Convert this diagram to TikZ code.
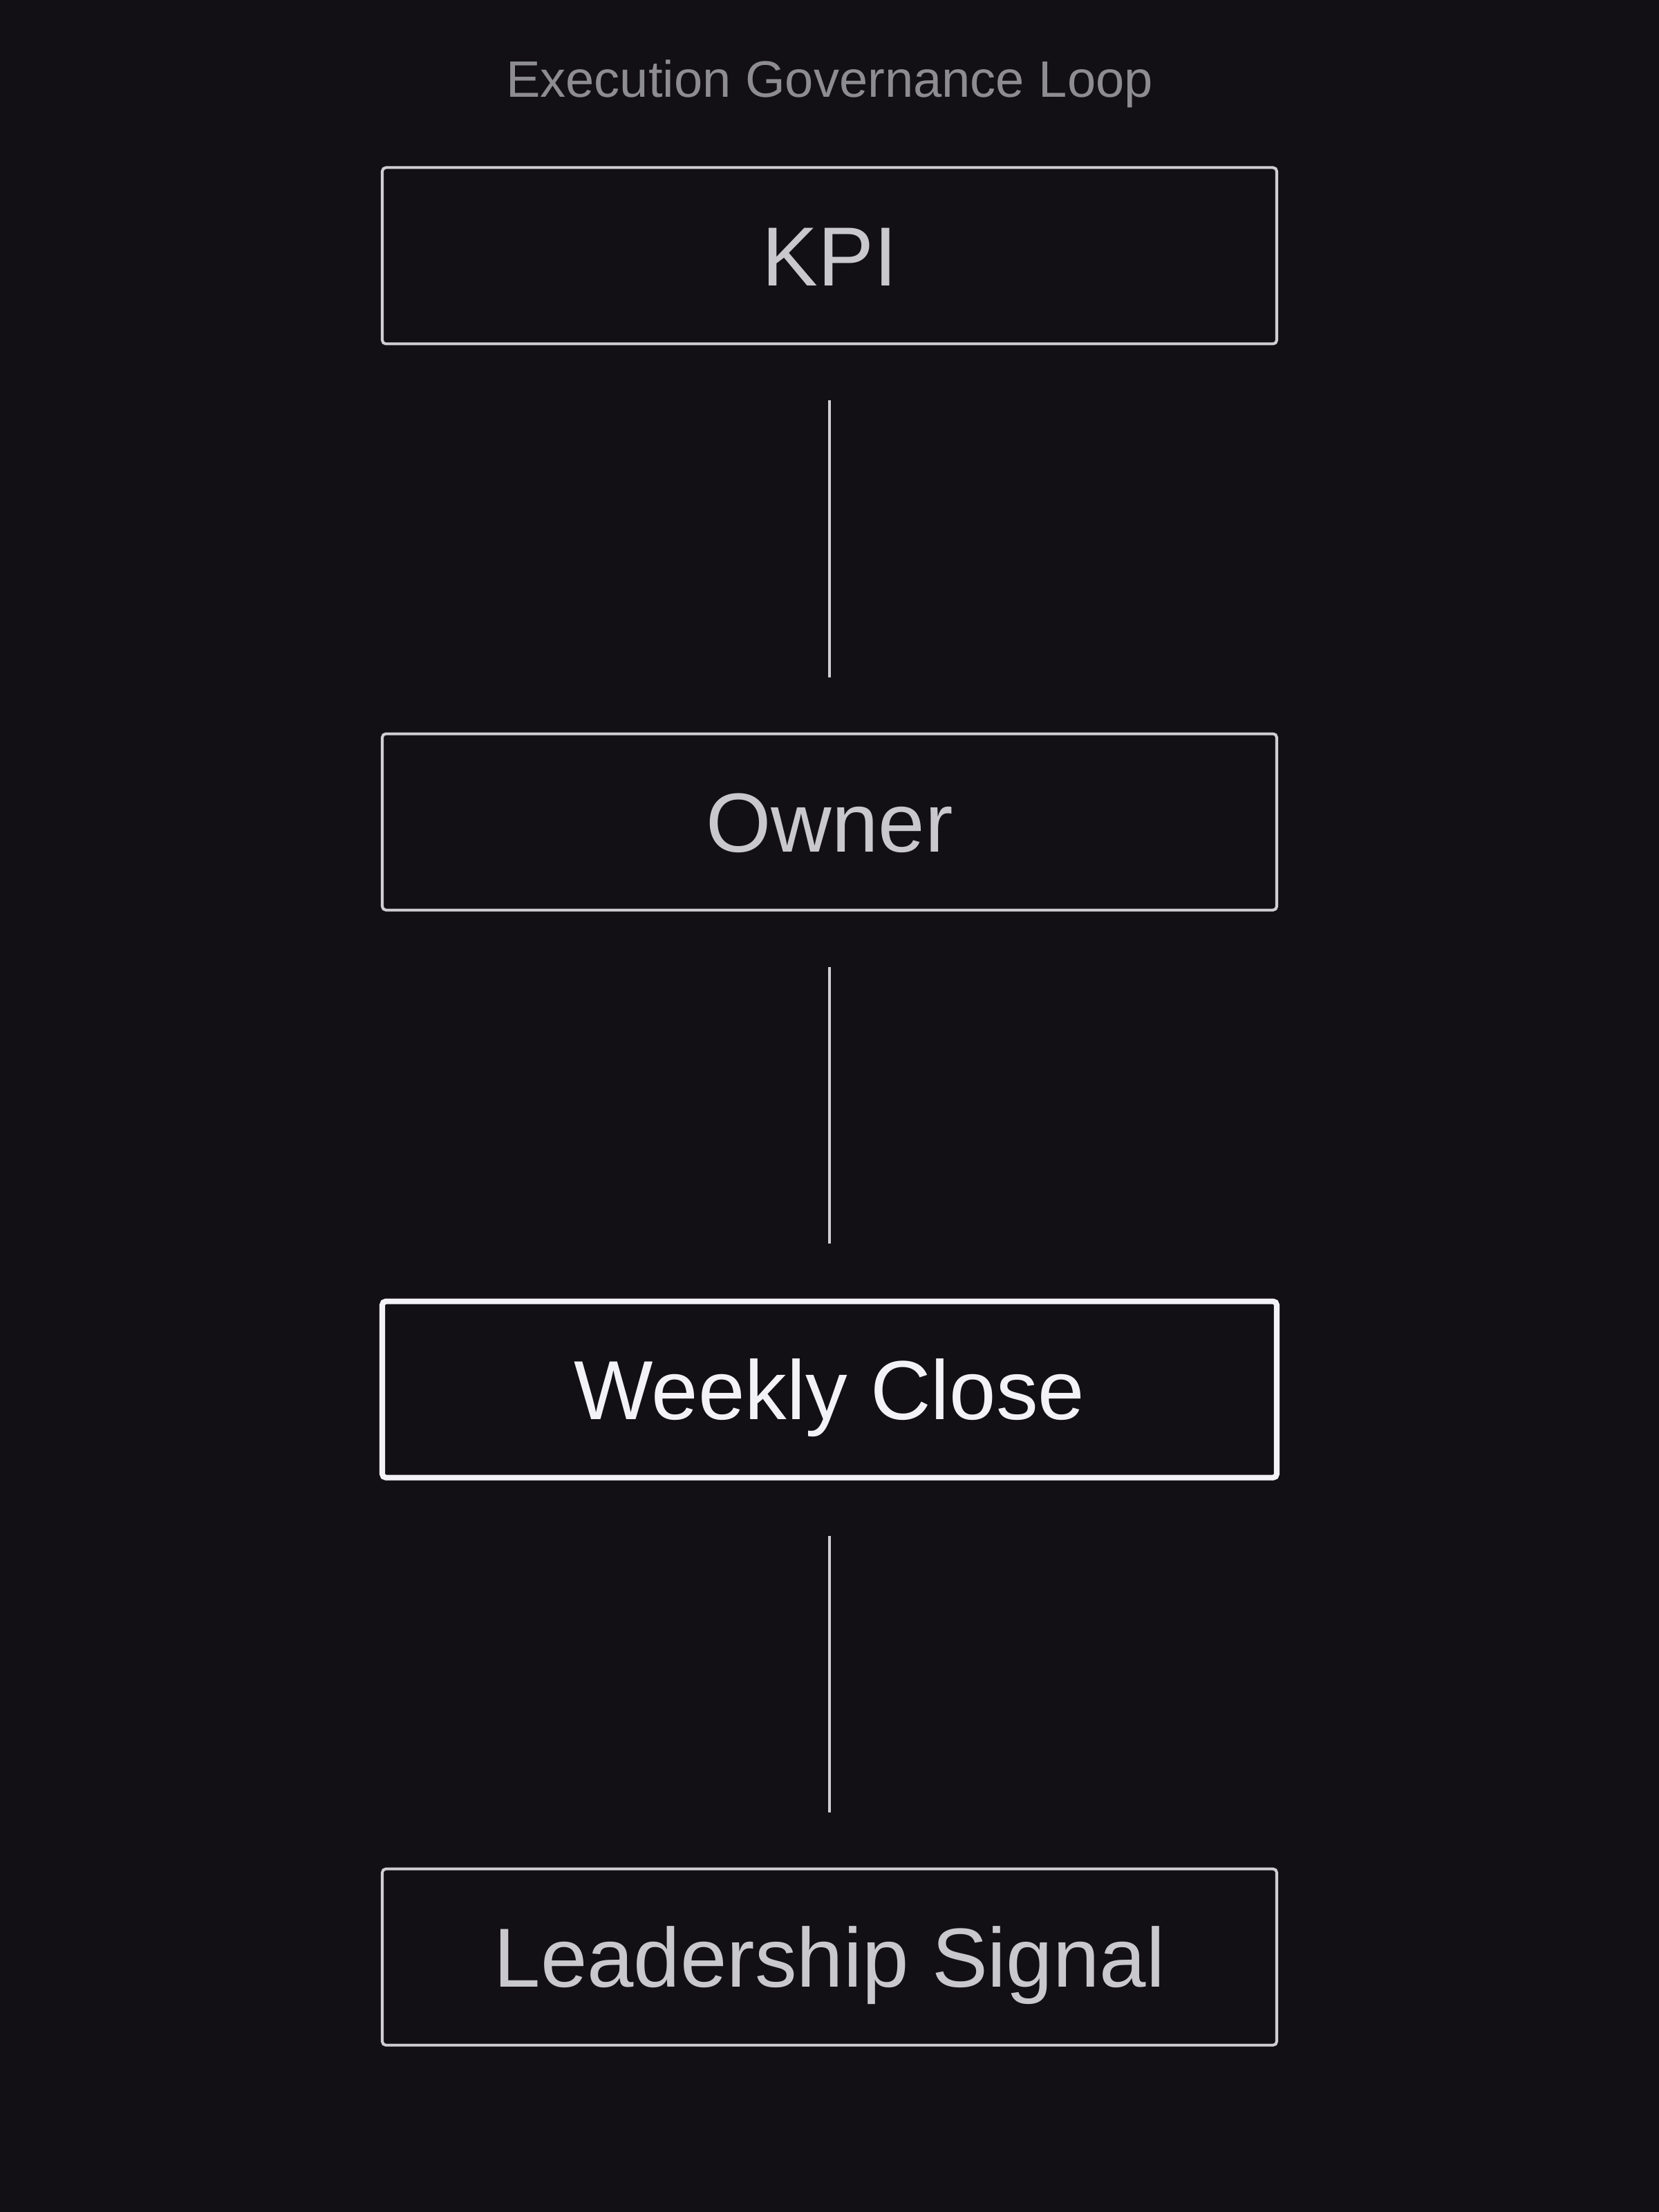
\documentclass[tikz,border=0pt]{standalone}
\usepackage{fontspec}
\setmainfont{Liberation Sans}
\usetikzlibrary{positioning}

\definecolor{canvas}{HTML}{121014}
\definecolor{boxline}{HTML}{CFCED2}
\definecolor{boxtext}{HTML}{C9C8CC}
\definecolor{keyline}{HTML}{F3F2F6}
\definecolor{titlegray}{HTML}{8D8C90}

\begin{document}
\begin{tikzpicture}[
		stagebox/.style={draw=boxline, line width=1.15pt, rounded corners=1.5pt,
			minimum width=12.94cm, minimum height=2.55cm, text=boxtext,
			font=\fontsize{34.5}{41}\selectfont, text height=24.5pt, text depth=0pt},
		keybox/.style={stagebox, draw=keyline, line width=2.3pt, text=keyline},
		link/.style={draw=boxline, line width=1.15pt, shorten >=0.8cm, shorten <=0.8cm},
		node distance=5.6cm
	]
			\fill[canvas] (0,0) rectangle (24,32);
			\useasboundingbox (0,0) rectangle (24,32);
			\node[anchor=base, text=titlegray, font=\fontsize{21.1}{25}\selectfont] (title) at (12,30.59) {Execution Governance Loop};
			\node[stagebox] (kpi) at (12,28.30) {KPI};
			\node[stagebox, below=of kpi] (owner) {Owner};
			\node[keybox, below=of owner] (close) {Weekly Close};
			\node[stagebox, below=of close] (signal) {Leadership Signal};
			\foreach \a/\b in {kpi/owner, owner/close, close/signal}
			\draw[link] (\a.south) -- (\b.north);
		\end{tikzpicture}
\end{document}
